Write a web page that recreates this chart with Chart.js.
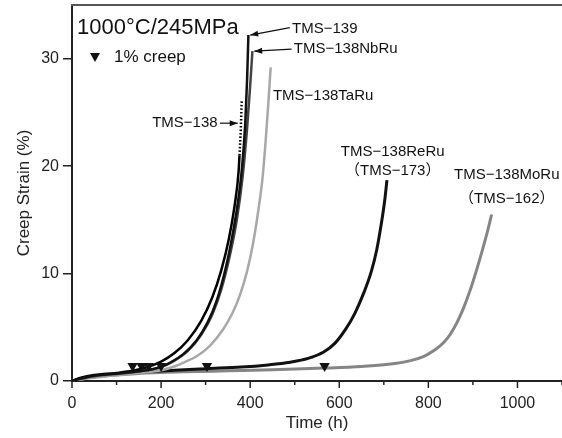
<!DOCTYPE html>
<html>
<head>
<meta charset="utf-8">
<script src="https://cdn.jsdelivr.net/npm/chart.js@4.4.0/dist/chart.umd.min.js"></script>
<style>
  html, body { margin: 0; padding: 0; background: #fff; overflow: hidden; }
  #wrap { width: 562px; height: 438px; position: relative; }
  #chart { display: block; }
</style>
</head>
<body>
<div id="wrap"><canvas id="chart"></canvas></div>
<script>
// creep curves, [time (h), strain (%)]
const tms139 = [[0,0],[20,0.25],[50,0.5],[100,0.7],[150,0.9],[190,1.2],[220,1.7],[250,2.5],[280,3.8],[305,5.5],[325,7.5],[345,10.5],[360,13.5],[372,16.5],[382,20],[389,24],[393,28],[396,32.2]];
const tms138NbRu = [[0,0],[20,0.2],[50,0.45],[100,0.65],[160,0.95],[200,1.3],[230,1.9],[260,2.8],[290,4.3],[315,6.2],[335,8.5],[355,11.8],[370,15],[383,19],[393,23.5],[400,27.5],[405,30.7]];
const tms138 = [[0,0],[20,0.3],[50,0.55],[100,0.75],[136,0.95],[170,1.3],[200,1.8],[230,2.6],[260,3.8],[290,5.6],[315,7.8],[335,10.3],[352,13.2],[365,16.3],[374,19.5],[376,21],[379,23.5],[381,26.2]];
const tms138TaRu = [[0,0],[30,0.2],[80,0.45],[140,0.7],[200,1.0],[226,1.3],[255,1.8],[280,2.3],[310,3.3],[339,4.8],[360,6.3],[377,8],[393,10.2],[406,12.7],[418,15.8],[428,19],[435,22.5],[441,26],[446,29.2]];
const tms138ReRu = [[0,0],[30,0.3],[80,0.55],[150,0.8],[230,1.0],[303,1.15],[380,1.3],[440,1.5],[490,1.75],[530,2.1],[565,2.7],[590,3.5],[614,4.8],[635,6.3],[655,8.2],[672,10.2],[684,12.2],[695,14.8],[702,16.8],[707,18.7]];
const tms138MoRu = [[0,0],[30,0.3],[80,0.5],[150,0.7],[250,0.85],[350,0.95],[450,1.05],[567,1.2],[650,1.35],[710,1.55],[760,1.9],[790,2.3],[815,2.9],[835,3.6],[850,4.4],[865,5.5],[880,6.9],[895,8.6],[908,10.3],[920,12.0],[932,13.8],[942,15.5]];

// 1% creep markers
const creepTimes = [136, 156, 172, 200, 303, 567];
const creepMarkY = [1.4, 1.4, 1.4, 1.4, 1.4, 1.4];

const xLabelled = [0, 200, 400, 600, 800, 1000];
const yLabelled = [0, 10, 20, 30];

// text labels, placed in data units
const notes = [
  { lines: ['TMS\u2212139'], x: 494, y: 32.8, align: 'left', arrow: [489, 32.9, 400, 32.2] },
  { lines: ['TMS\u2212138NbRu'], x: 498, y: 30.9, align: 'left', arrow: [493, 30.9, 409, 30.7] },
  { lines: ['TMS\u2212138TaRu'], x: 451, y: 26.5, align: 'left' },
  { lines: ['TMS\u2212138'], x: 180, y: 24.0, align: 'left', arrow: [332, 24.0, 372, 24.0] },
  { lines: ['TMS\u2212138ReRu', '\uff08TMS\u2212173\uff09'], x: 720, y: 21.3, align: 'center', gap: 1.7 },
  { lines: ['TMS\u2212138MoRu', '\uff08TMS\u2212162\uff09'], x: 976, y: 19.2, align: 'center', gap: 2.2 }
];

const pts = arr => arr.map(p => ({ x: p[0], y: p[1] }));
const FONT = "'Liberation Sans', Arial, 'Noto Sans CJK JP', sans-serif";

const overlay = {
  id: 'overlay',
  afterDraw(chart) {
    const { ctx, chartArea, scales: { x, y } } = chart;
    ctx.save();
    // top frame line
    ctx.strokeStyle = '#555';
    ctx.lineWidth = 2;
    ctx.beginPath();
    ctx.moveTo(chartArea.left - 1, chartArea.top);
    ctx.lineTo(chartArea.right, chartArea.top);
    ctx.stroke();

    // x tick marks, long on labelled ones
    ctx.strokeStyle = '#222';
    ctx.lineWidth = 1.5;
    for (let v = 0; v <= 1100; v += 100) {
      const px = x.getPixelForValue(v);
      const len = xLabelled.includes(v) ? 7 : 4;
      ctx.beginPath();
      ctx.moveTo(px, chartArea.bottom);
      ctx.lineTo(px, chartArea.bottom + len);
      ctx.stroke();
    }

    // condition text + legend
    ctx.fillStyle = '#111';
    ctx.textBaseline = 'middle';
    ctx.textAlign = 'left';
    ctx.font = '22px ' + FONT;
    ctx.fillText('1000\u00b0C/245MPa', 77, 28);
    ctx.beginPath();
    ctx.moveTo(90, 53);
    ctx.lineTo(100, 53);
    ctx.lineTo(95, 62);
    ctx.closePath();
    ctx.fill();
    ctx.font = '17px ' + FONT;
    ctx.fillText('1% creep', 114, 57);

    // curve labels and arrows
    ctx.font = '15px ' + FONT;
    notes.forEach(n => {
      ctx.textAlign = n.align;
      n.lines.forEach((t, i) => {
        ctx.fillText(t, x.getPixelForValue(n.x), y.getPixelForValue(n.y - i * (n.gap || 0)));
      });
      if (n.arrow) {
        const x0 = x.getPixelForValue(n.arrow[0]), y0 = y.getPixelForValue(n.arrow[1]);
        const x1 = x.getPixelForValue(n.arrow[2]), y1 = y.getPixelForValue(n.arrow[3]);
        const a = Math.atan2(y1 - y0, x1 - x0);
        ctx.strokeStyle = '#111';
        ctx.lineWidth = 1.2;
        ctx.beginPath();
        ctx.moveTo(x0, y0);
        ctx.lineTo(x1, y1);
        ctx.stroke();
        ctx.beginPath();
        ctx.moveTo(x1, y1);
        ctx.lineTo(x1 - 8 * Math.cos(a) + 3 * Math.sin(a), y1 - 8 * Math.sin(a) - 3 * Math.cos(a));
        ctx.lineTo(x1 - 8 * Math.cos(a) - 3 * Math.sin(a), y1 - 8 * Math.sin(a) + 3 * Math.cos(a));
        ctx.closePath();
        ctx.fill();
      }
    });
    ctx.restore();
  }
};

const lineSet = (label, data, color, width, extra) => Object.assign({
  label,
  data: pts(data),
  borderColor: color,
  borderWidth: width,
  showLine: true,
  pointRadius: 0,
  cubicInterpolationMode: 'monotone',
  fill: false
}, extra || {});

new Chart(document.getElementById('chart'), {
  type: 'scatter',
  data: {
    datasets: [
      {
        label: '1% creep',
        data: creepTimes.map((t, i) => ({ x: t, y: creepMarkY[i] })),
        pointStyle: 'triangle',
        rotation: 180,
        radius: 6,
        backgroundColor: '#111',
        borderColor: '#111',
        borderWidth: 0,
        showLine: false
      },
      lineSet('TMS-139', tms139, '#111', 2.5),
      lineSet('TMS-138', tms138, '#000', 2.5, {
        segment: { borderDash: ctx => ctx.p0.parsed.y >= 20.5 ? [1.5, 2] : undefined }
      }),
      lineSet('TMS-138NbRu', tms138NbRu, '#444', 2.5),
      lineSet('TMS-138TaRu', tms138TaRu, '#a8a8a8', 2.5),
      lineSet('TMS-138ReRu', tms138ReRu, '#111', 3),
      lineSet('TMS-138MoRu', tms138MoRu, '#858585', 3)
    ]
  },
  options: {
    responsive: true,
    maintainAspectRatio: false,
    animation: false,
    layout: { autoPadding: false, padding: { top: 5, right: 0, left: 0, bottom: 0 } },
    plugins: {
      legend: { display: false },
      tooltip: { enabled: false }
    },
    scales: {
      x: {
        type: 'linear',
        min: 0,
        max: 1100,
        afterFit: s => { s.height = 57; s.paddingLeft = 0; s.paddingRight = 0; },
        border: { color: '#222', width: 2 },
        grid: { drawOnChartArea: false, tickLength: 7, tickColor: 'rgba(0,0,0,0)' },
        ticks: {
          stepSize: 100,
          maxRotation: 0,
          autoSkip: false,
          padding: 6,
          color: '#222',
          font: { size: 16, family: FONT },
          callback: v => xLabelled.includes(v) ? String(v) : ''
        },
        title: {
          display: true,
          text: 'Time (h)',
          color: '#222',
          font: { size: 17, family: FONT },
          padding: { top: 0, bottom: 4 }
        }
      },
      y: {
        type: 'linear',
        min: 0,
        max: 35,
        afterFit: s => { s.width = 72; s.paddingTop = 0; s.paddingBottom = 0; },
        afterBuildTicks: s => { s.ticks = s.ticks.filter(t => yLabelled.includes(t.value)); },
        border: { color: '#222', width: 2 },
        grid: { drawOnChartArea: false, tickLength: 9, color: '#222', lineWidth: 1.5 },
        ticks: {
          stepSize: 10,
          padding: 4,
          color: '#222',
          font: { size: 16, family: FONT }
        },
        title: {
          display: true,
          text: 'Creep Strain (%)',
          color: '#222',
          font: { size: 17, family: FONT },
          padding: { top: 14, bottom: 0 }
        }
      }
    }
  },
  plugins: [overlay]
});
</script>
</body>
</html>
